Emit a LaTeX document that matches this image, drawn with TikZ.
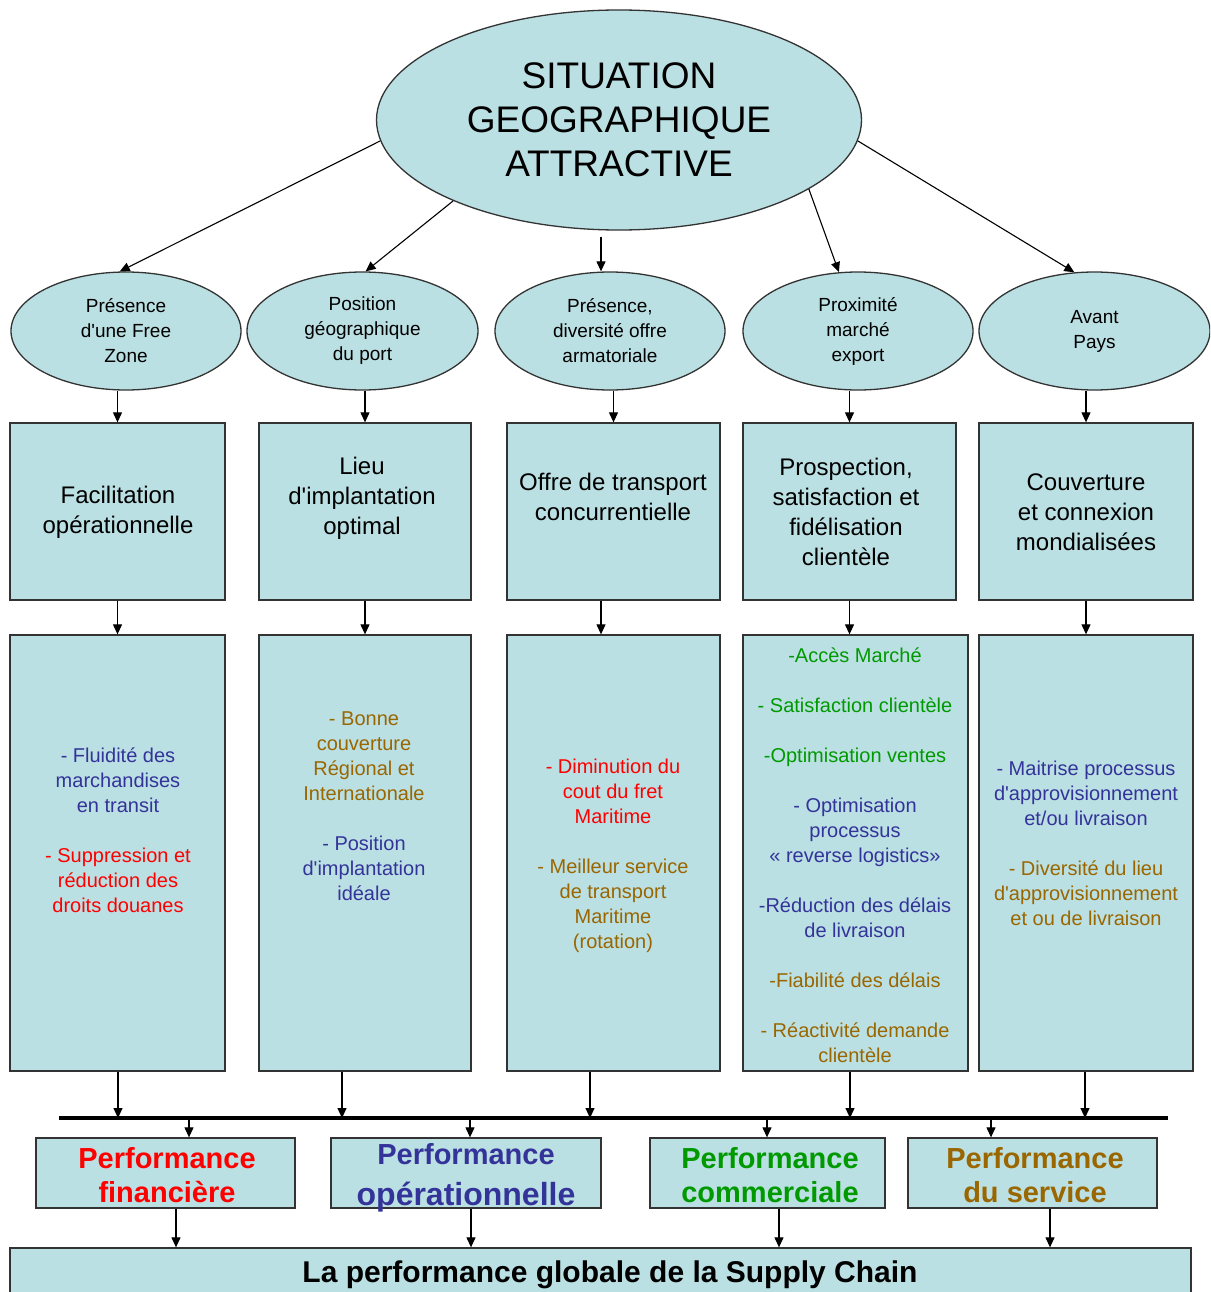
\documentclass[tikz,border=0pt]{standalone}
\usepackage{fontspec}
\setmainfont{Liberation Sans}
\usetikzlibrary{shapes.geometric,arrows.meta,calc}
\definecolor{fillc}{HTML}{BBE0E3}
\definecolor{bordc}{HTML}{333333}
\definecolor{tblue}{HTML}{333399}
\definecolor{tred}{HTML}{FF0000}
\definecolor{tgreen}{HTML}{009900}
\definecolor{tbrown}{HTML}{996600}
\newcommand{\ap}{\textquotesingle}
\newcommand{\tB}[1]{\textcolor{tblue}{#1}}
\newcommand{\tR}[1]{\textcolor{tred}{#1}}
\newcommand{\tG}[1]{\textcolor{tgreen}{#1}}
\newcommand{\tO}[1]{\textcolor{tbrown}{#1}}
\begin{document}
\begin{tikzpicture}[x=1pt,y=-1pt,
  ell/.style={ellipse, draw=bordc, line width=1.3pt, fill=fillc, inner sep=0pt, align=center},
  bx/.style={rectangle, draw=bordc, line width=1.3pt, fill=fillc, inner sep=0pt},
  arr/.style={draw=black, line width=1.1pt, -{Triangle[length=10pt,width=9pt]}},
  titlef/.style={font=\fontsize{37}{44}\selectfont},
  ellf/.style={font=\fontsize{19}{25}\selectfont},
  boxf/.style={align=center, inner sep=0pt, font=\fontsize{24}{30}\selectfont},
  itmf/.style={align=center, inner sep=0pt, font=\fontsize{20}{25}\selectfont},
  perff/.style={align=center, inner sep=0pt, font=\bfseries\fontsize{29}{34}\selectfont}
]
\clip (0,0) rectangle (1210,1292);
\fill[white] (0,0) rectangle (1210,1292);

% top ellipse
\node[ell, titlef, minimum width=485pt, minimum height=220pt] (top) at (619,120)
  {SITUATION\\GEOGRAPHIQUE\\ATTRACTIVE};

% small ellipses
\node[ell, ellf, minimum width=230pt, minimum height=118pt] (e1) at (126,331) {Présence\\d\ap une Free\\Zone};
\node[ell, ellf, minimum width=231pt, minimum height=118pt] (e2) at (362.5,331) {Position\\géographique\\du port};
\node[ell, ellf, minimum width=230pt, minimum height=118pt] (e3) at (610,331) {Présence,\\diversité offre\\armatoriale};
\node[ell, ellf, minimum width=230pt, minimum height=118pt] (e4) at (858,331) {Proximité\\marché\\export};
\node[ell, ellf, minimum width=231pt, minimum height=118pt] (e5) at (1094.5,331) {Avant\\Pays};

% row 1 boxes
\node[bx, minimum width=215pt, minimum height=177pt] (b1) at (117.5,511.5) {};
\node[bx, minimum width=212pt, minimum height=177pt] (b2) at (365,511.5) {};
\node[bx, minimum width=213pt, minimum height=177pt] (b3) at (613.5,511.5) {};
\node[bx, minimum width=213pt, minimum height=177pt] (b4) at (849.5,511.5) {};
\node[bx, minimum width=214pt, minimum height=177pt] (b5) at (1086,511.5) {};
\node[boxf] (b1t) at (118,512.5) {Facilitation\\opérationnelle};
\node[boxf] (b2t) at (362,498) {Lieu\\d\ap implantation\\optimal};
\node[boxf] (b3t) at (613,497) {Offre de transport\\concurrentielle};
\node[boxf] (b4t) at (846,512) {Prospection,\\satisfaction et\\fidélisation\\clientèle};
\node[boxf] (b5t) at (1086,512) {Couverture\\et connexion\\mondialisées};

% row 2 boxes
\node[bx, minimum width=215pt, minimum height=436pt] (c1) at (117.5,853) {};
\node[bx, minimum width=212pt, minimum height=436pt] (c2) at (365,853) {};
\node[bx, minimum width=213pt, minimum height=436pt] (c3) at (613.5,853) {};
\node[bx, minimum width=225pt, minimum height=436pt] (c4) at (855.5,853) {};
\node[bx, minimum width=214pt, minimum height=436pt] (c5) at (1086,853) {};

\node[itmf] (c1t) at (118,830) {\tB{- Fluidité des}\\ \tB{marchandises}\\ \tB{en transit}\\[25pt]
  \tR{- Suppression et}\\ \tR{réduction des}\\ \tR{droits douanes}};
\node[itmf] (c2t) at (364,806) {\tO{- Bonne}\\ \tO{couverture}\\ \tO{Régional et}\\ \tO{Internationale}\\[25pt]
  \tB{- Position}\\ \tB{d\ap implantation}\\ \tB{idéale}};
\node[itmf] (c3t) at (613,856) {\tR{- Diminution du}\\ \tR{cout du fret}\\ \tR{Maritime}\\[25pt]
  \tO{- Meilleur service}\\ \tO{de transport}\\ \tO{Maritime}\\ \tO{(rotation)}};
\node[itmf] (c4t) at (855,855) {\tG{-Accès Marché}\\[25pt] \tG{- Satisfaction clientèle}\\[25pt]
  \tG{-Optimisation ventes}\\[25pt] \tB{- Optimisation}\\ \tB{processus}\\ \tB{« reverse logistics»}\\[25pt]
  \tB{-Réduction des délais}\\ \tB{de livraison}\\[25pt] \tO{-Fiabilité des délais}\\[25pt]
  \tO{- Réactivité demande}\\ \tO{clientèle}};
\node[itmf] (c5t) at (1086,843) {\tB{- Maitrise processus}\\ \tB{d\ap approvisionnement}\\ \tB{et/ou livraison}\\[25pt]
  \tO{- Diversité du lieu}\\ \tO{d\ap approvisionnement}\\ \tO{et ou de livraison}};

% bus
\coordinate (busL) at (59,1118);
\coordinate (busR) at (1168,1118);
\draw[line width=3.2pt] (busL) -- (busR);

% performance boxes
\node[bx, minimum width=259pt, minimum height=70pt] (p1) at (165.5,1173) {};
\node[bx, minimum width=270pt, minimum height=70pt] (p2) at (466,1173) {};
\node[bx, minimum width=235pt, minimum height=70pt] (p3) at (767.5,1173) {};
\node[bx, minimum width=249pt, minimum height=70pt] (p4) at (1032.5,1173) {};
\node[perff, text=tred] (p1t) at (167,1175) {Performance\\financière};
\node[perff, text=tblue] (p2t) at (466,1178) {Performance\\[7pt] {\fontsize{32}{36}\selectfont opérationnelle}};
\node[perff, text=tgreen] (p3t) at (770,1175) {Performance\\commerciale};
\node[perff, text=tbrown] (p4t) at (1035,1175) {Performance\\du service};

% final box
\node[bx, minimum width=1181pt, minimum height=70pt] (fin) at (600.5,1283) {};
\node[font=\bfseries\fontsize{30}{36}\selectfont, inner sep=0pt] (fint) at (610,1275) {La performance globale de la Supply Chain};

% arrows from top ellipse
\draw[arr] (top.185) -- (e1.96);
\draw[arr] (top.206) -- (e2.87);
\coordinate (t3) at ([xshift=-18pt,yshift=-6pt]top.south);
\draw[arr] (t3) -- (t3 |- e3.north);
\draw[arr] (top.340) -- (e4.108);
\draw[arr] (top.355) -- (e5.109);

% ellipses to row 1
\foreach \i in {1,...,5} {
  \draw[arr] (b\i.north |- e\i.south) -- (b\i.north);
}

% row 1 to row 2
\draw[arr] (b1.south) -- (b1.south |- c1.north);
\draw[arr] (b2.south) -- (b2.south |- c2.north);
\coordinate (b3o) at ([xshift=-12.5pt]b3.south);
\draw[arr] (b3o) -- (b3o |- c3.north);
\draw[arr] (b4.south) -- (b4.south |- c4.north);
\draw[arr] (b5.south) -- (b5.south |- c5.north);

% row 2 to bus
\coordinate (c1o) at ([xshift=0.5pt]c1.south);
\coordinate (c2o) at ([xshift=-23pt]c2.south);
\coordinate (c3o) at ([xshift=-23.5pt]c3.south);
\coordinate (c4o) at ([xshift=-5.5pt]c4.south);
\coordinate (c5o) at ([xshift=-1pt]c5.south);
\foreach \i in {1,...,5} {
  \draw[arr] (c\i o) -- (c\i o |- busL);
}

% bus to performance boxes
\coordinate (p1i) at ([xshift=23.5pt]p1.north);
\coordinate (p2i) at ([xshift=4pt]p2.north);
\coordinate (p3i) at ([xshift=-0.5pt]p3.north);
\coordinate (p4i) at ([xshift=-41.5pt]p4.north);
\foreach \i in {1,...,4} {
  \draw[arr] (p\i i |- busL) -- (p\i i);
}

% performance boxes to final
\coordinate (p1o) at ([xshift=10.5pt]p1.south);
\coordinate (p2o) at ([xshift=5pt]p2.south);
\coordinate (p3o) at ([xshift=11.5pt]p3.south);
\coordinate (p4o) at ([xshift=17.5pt]p4.south);
\foreach \i in {1,...,4} {
  \draw[arr] (p\i o) -- (p\i o |- fin.north);
}
\end{tikzpicture}
\end{document}
